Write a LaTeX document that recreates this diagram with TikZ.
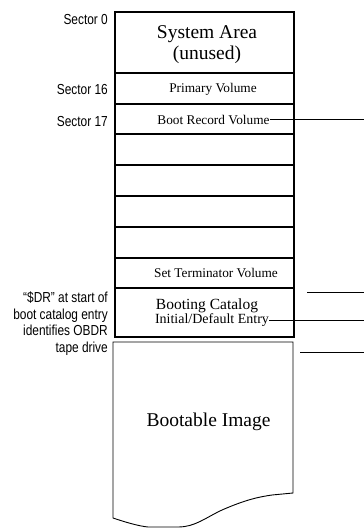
\documentclass[tikz,border=0pt]{standalone}
\usepackage{fontspec}
\setmainfont{Liberation Serif}
\newfontfamily\lsn[FakeStretch=0.82]{Liberation Sans}
\begin{document}
\begin{tikzpicture}[x=1pt,y=-1pt,
  rowbox/.style={draw,line width=2pt,minimum width=179pt,inner sep=0pt,outer sep=0pt},
  boxtext/.style={inner sep=0pt,font=\fontsize{13.3}{15}\selectfont},
  bigtext/.style={inner sep=0pt,align=center,font=\fontsize{19.5}{21}\selectfont},
  sidelabel/.style={inner sep=0pt,anchor=east,align=right,font=\lsn\fontsize{14.5}{16.5}\selectfont},
  leader/.style={line width=0.8pt}]
\useasboundingbox (0,0) rectangle (364,528);
% rows of the main box
\node[rowbox,minimum height=61pt] (sys) at (204.5,42.5) {};
\node[rowbox,minimum height=31pt] (prim) at (204.5,88.5) {};
\node[rowbox,minimum height=30pt] (boot) at (204.5,119) {};
\node[rowbox,minimum height=31pt] (e1) at (204.5,149.5) {};
\node[rowbox,minimum height=31pt] (e2) at (204.5,180.5) {};
\node[rowbox,minimum height=31pt] (e3) at (204.5,211.5) {};
\node[rowbox,minimum height=31pt] (e4) at (204.5,242.5) {};
\node[rowbox,minimum height=30pt] (term) at (204.5,273) {};
\node[rowbox,minimum height=49pt] (cat) at (204.5,312.5) {};
% texts
\node[bigtext] (systxt) at (207,45) {System Area\\(unused)};
\node[boxtext] (primtxt) at (213,89) {Primary Volume};
\node[boxtext] (brv) at (213.5,119.5) {Boot Record Volume};
\node[boxtext] (termtxt) at (216,273) {Set Terminator Volume};
\node[boxtext,font=\fontsize{15.5}{17}\selectfont] (bctxt) at (207,306) {Booting Catalog};
\node[boxtext,font=\fontsize{14}{16}\selectfont] (init) at (212,320.5) {Initial/Default Entry};
% bootable image
\draw[line width=0.9pt] (113,342) -- (293,342) -- (293,493) -- (272,495)
  .. controls (258,497) and (245,500) .. (222,510)
  .. controls (205,518) and (195,527) .. (178,527)
  -- (148,527) .. controls (138,526) and (125,522) .. (113,518)
  -- cycle;
\node[bigtext] (bimg) at (208.5,422) {Bootable Image};
% side labels
\node[sidelabel] (s0) at (108,19.5) {Sector 0};
\node[sidelabel] (s16) at (108,89.5) {Sector 16};
\node[sidelabel] (s17) at (108,121.5) {Sector 17};
\node[sidelabel,anchor=north east] (dr) at (108,292) {“\$DR” at start of\\boot catalog entry\\identifies OBDR\\tape drive};
% leader lines
\coordinate (r1) at (364,120);
\coordinate (l2) at (307,292);
\coordinate (r2) at (364,292);
\coordinate (r3) at (364,316);
\coordinate (l4) at (300,352);
\coordinate (r4) at (364,352);
\draw[leader] (brv.east) -- (brv.east -| r1);
\draw[leader] (l2) -- (r2);
\draw[leader] (init.east) -- (init.east -| r3);
\draw[leader] (l4) -- (r4);
\end{tikzpicture}
\end{document}
